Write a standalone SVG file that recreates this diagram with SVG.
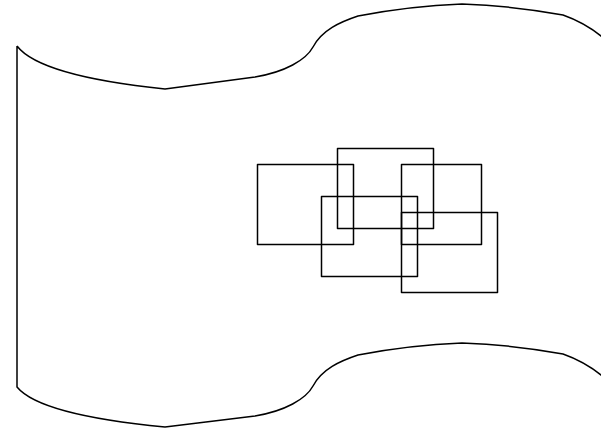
<svg xmlns="http://www.w3.org/2000/svg" width="601" height="428" viewBox="0 0 601 428">
<style>
.s{fill:none;stroke:#000;stroke-width:1.5;stroke-linejoin:round}
</style>
<rect width="601" height="428" fill="#fff"/>
<g id="banner">
<path class="s" d="M17,46 Q40,76 165,89 L255,77 C285,72 306,60 313,47 C322,30 340,22 358,16 Q410,6 462,4 Q515,6 563,15 C580,21 595,30 608,42 M17,46 L17,387 Q40,415 165,427 L255,416 C285,411 306,399 313,386 C322,369 340,361 358,355 Q410,345 462,343 Q515,345 563,354 C580,360 595,369 608,381"/>
</g>
<g id="r1"><rect class="s" x="257.5" y="164.5" width="96" height="80"/></g>
<g id="r2"><rect class="s" x="337.5" y="148.5" width="96" height="80"/></g>
<g id="r3"><rect class="s" x="401.5" y="164.5" width="80" height="80"/></g>
<g id="r4"><rect class="s" x="321.5" y="196.5" width="96" height="80"/></g>
<g id="r5"><rect class="s" x="401.5" y="212.5" width="96" height="80"/></g>
<g id="connectors"></g>
</svg>
